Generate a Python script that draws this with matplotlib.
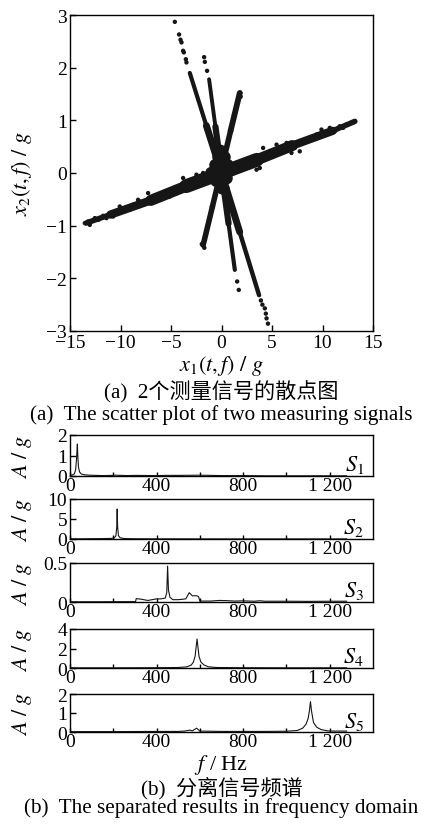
import matplotlib
matplotlib.use('Agg')
import matplotlib.pyplot as plt

plt.rcParams['font.family'] = ['Liberation Serif', 'Noto Sans CJK SC']
plt.rcParams['mathtext.fontset'] = 'stix'

# ---- scatter (a): arm centre lines ----
arm_a_x = [-13.4, -11.0, -7.0, -3.5, 0.0, 3.5, 7.0, 11.0, 13.2]
arm_a_y = [-0.95, -0.79, -0.52, -0.25, 0.0, 0.25, 0.52, 0.80, 0.98]
arm_b_x = [-3.14, -1.5, 0.0, 1.8, 3.72]
arm_b_y = [1.90, 0.90, 0.0, -1.12, -2.32]
arm_c_x = [-1.23, -0.6, 0.0, 0.7, 1.32]
arm_c_y = [1.78, 0.88, 0.03, -0.96, -1.84]
arm_d_x = [-1.82, -0.9, 0.0, 0.9, 1.81]
arm_d_y = [-1.37, -0.64, 0.08, 0.80, 1.52]

# loose dots at the ends and edges of the arms
dots_x = [-4.62, -4.20, -4.06, -3.96, -3.80, -3.73, -3.53, -3.47,
          -1.72, -1.65, -1.43, 1.55, 1.71,
          4.29, 4.39, 4.46, 4.60, 3.90, 4.05,
          -13.53, -13.2, -13.04, -12.54, -12.2, -11.72, -11.39, -10.73, -10.4,
          -10.07, -9.57, -9.08, -8.75, -8.26, -8.09, -7.27, -6.77, -6.28,
          -5.45, -5.12, -4.46, -3.8, -3.63, -2.81, -2.48, -1.82,
          13.2, 12.87, 12.38, 12.04, 11.71, 11.22, 10.72, 10.4, 9.9, 9.41,
          8.74, 7.75, 7.26, 6.93, 6.44, 5.94, 5.45, 4.78, 4.12, 3.79, 3.47,
          3.13, 2.48, 1.98,
          -1.95, -1.70, 1.70, 1.90, 1.85]
dots_y = [2.87, 2.63, 2.53, 2.48, 2.32, 2.29, 2.16, 2.10,
          2.20, 2.11, 1.94, -2.06, -2.22,
          -2.57, -2.67, -2.76, -2.86, -2.42, -2.50,
          -0.952, -0.92, -0.985, -0.857, -0.89, -0.813, -0.857, -0.826, -0.762,
          -0.636, -0.667, -0.699, -0.604, -0.509, -0.541, -0.381, -0.509, -0.476,
          -0.35, -0.446, -0.381, -0.095, -0.255, -0.16, -0.032, 0.0,
          0.983, 0.952, 0.92, 0.857, 0.888, 0.792, 0.857, 0.792, 0.825, 0.73,
          0.667, 0.411, 0.476, 0.381, 0.571, 0.444, 0.539, 0.411, 0.476, 0.095, 0.063,
          0.253, 0.19, 0.126,
          -1.35, -1.42, 1.40, 1.45, 1.52]

# dense blob at the crossing point
blob_x = [-1.0, -0.6, -0.3, 0.0, 0.3, 0.6, 0.9, -0.5, 0.0, 0.5, -0.2, 0.2, 0.0, 0.2, -0.1]
blob_y = [0.0, 0.15, 0.30, 0.38, 0.30, 0.15, 0.05, -0.15, -0.28, -0.10, 0.10, -0.05, 0.05, -0.3, 0.42]

# ---- spectra (b) ----
f1 = [0, 10, 20, 26, 30, 32, 34, 36, 39, 44, 52, 65, 90, 150, 200, 210, 260, 300, 400, 450,
      500, 600, 700, 800, 900, 1000, 1100, 1200, 1278]
a1 = [0.05, 0.05, 0.10, 0.30, 0.80, 1.20, 1.56, 1.00, 0.45, 0.20, 0.10, 0.06, 0.04, 0.02, 0.03,
      0.04, 0.02, 0.03, 0.02, 0.03, 0.03, 0.04, 0.02, 0.02, 0.01, 0.01, 0.01, 0.01, 0.01]
f2 = [0, 50, 100, 150, 190, 205, 212, 216, 218, 220, 224, 232, 250, 300, 400, 600, 800,
      1000, 1200, 1278]
a2 = [0.05, 0.05, 0.08, 0.10, 0.15, 0.30, 0.80, 3.0, 7.5, 3.0, 0.8, 0.3, 0.12, 0.06, 0.04,
      0.03, 0.02, 0.02, 0.02, 0.02]
f3 = [0, 100, 200, 303, 306, 330, 360, 380, 400, 420, 440, 447, 451, 455, 462, 475, 500,
      520, 535, 545, 551, 558, 565, 575, 585, 594, 600, 650, 690, 720, 760, 800, 850, 877,
      900, 1000, 1100, 1200, 1278]
a3 = [0.003, 0.003, 0.004, 0.005, 0.044, 0.035, 0.02, 0.03, 0.04, 0.04, 0.05, 0.12, 0.46,
      0.15, 0.06, 0.03, 0.03, 0.035, 0.04, 0.09, 0.12, 0.10, 0.08, 0.08, 0.08, 0.07, 0.012,
      0.012, 0.02, 0.018, 0.012, 0.015, 0.01, 0.016, 0.01, 0.01, 0.008, 0.01, 0.01]
f4 = [0, 200, 400, 500, 540, 560, 570, 578, 583, 587, 591, 596, 605, 620, 640, 680, 800,
      1000, 1200, 1278]
a4 = [0.02, 0.02, 0.03, 0.05, 0.12, 0.30, 0.60, 1.20, 2.20, 2.97, 2.20, 1.20, 0.60, 0.30,
      0.12, 0.05, 0.03, 0.02, 0.02, 0.02]
f5 = [0, 200, 400, 500, 530, 554, 565, 585, 600, 700, 900, 1000, 1050, 1075, 1090, 1100,
      1106, 1111, 1116, 1125, 1140, 1160, 1190, 1220, 1250, 1278]
a5 = [0.02, 0.02, 0.03, 0.03, 0.05, 0.10, 0.06, 0.20, 0.05, 0.03, 0.03, 0.04, 0.08, 0.20,
      0.40, 0.70, 1.10, 1.60, 1.10, 0.50, 0.25, 0.13, 0.06, 0.05, 0.05, 0.05]

spectra = [(f1, a1), (f2, a2), (f3, a3), (f4, a4), (f5, a5)]
y_limits = [2, 10, 0.5, 4, 2]
y_ticks = [[0, 1, 2], [0, 5, 10], [0, 0.5], [0, 2, 4], [0, 1, 2]]
y_tick_labels = [['0', '1', '2'], ['0', '5', '10'], ['0', '0.5'], ['0', '2', '4'], ['0', '1', '2']]
f_ticks = [0, 400, 800, 1200]
f_tick_labels = ['0', '400', '800', '1 200']
names = ['$S_1$', '$S_2$', '$S_3$', '$S_4$', '$S_5$']

W, H = 426, 828
fig = plt.figure(figsize=(W / 100, H / 100), dpi=100)
ink = '#161616'
fs = 14       # tick labels
fl = 16       # axis labels
fc = 15.2     # captions

# scatter panel
ax = fig.add_axes([70 / W, 1 - 332 / H, 303 / W, 316 / H])
widths_a = [4, 6, 8, 10, 10, 8, 6, 4]
for i in range(len(arm_a_x) - 1):
    ax.plot(arm_a_x[i:i + 2], arm_a_y[i:i + 2], color=ink, lw=widths_a[i], solid_capstyle='round')
for xs, ys, ws in [(arm_b_x, arm_b_y, [3.0, 5.0, 5.0, 3.2]),
                   (arm_c_x, arm_c_y, [2.8, 4.5, 4.5, 3.0]),
                   (arm_d_x, arm_d_y, [4.0, 4.0, 4.0, 4.2])]:
    for i in range(len(xs) - 1):
        ax.plot(xs[i:i + 2], ys[i:i + 2], color=ink, lw=ws[i], solid_capstyle='round')
ax.scatter(blob_x, blob_y, s=80, color=ink, edgecolors='none')
ax.scatter(dots_x, dots_y, s=10, color=ink, edgecolors='none')
ax.set_xlim(-15, 15)
ax.set_ylim(-3, 3)
ax.set_xticks([-15, -10, -5, 0, 5, 10, 15])
ax.set_yticks([-3, -2, -1, 0, 1, 2, 3])
ax.set_xticklabels(['\u221215', '\u221210', '\u22125', '0', '5', '10', '15'])
ax.set_yticklabels(['\u22123', '\u22122', '\u22121', '0', '1', '2', '3'])
ax.tick_params(direction='in', length=4, width=1, labelsize=fs, pad=2)
for s in ax.spines.values():
    s.set_linewidth(1.0)
ax.set_xlabel(r'$x_1(t, f)\ /\ g$', fontsize=fl, labelpad=1.5)
ax.set_ylabel(r'$x_2(t, f)\ /\ g$', fontsize=fl)
ax.yaxis.set_label_coords(-0.118, 0.5)

fig.text(221.5 / W, 1 - 392 / H, '(a)  2个测量信号的散点图', ha='center', va='center', fontsize=fc)
fig.text(221.5 / W, 1 - 415 / H, '(a)  The scatter plot of two measuring signals',
         ha='center', va='center', fontsize=fc)

# spectrum panels
boxes = [(436, 477), (500, 540), (564, 603), (630, 669), (695, 733)]
for k, (top, bot) in enumerate(boxes):
    sx = fig.add_axes([70 / W, 1 - bot / H, 303 / W, (bot - top) / H])
    f, a = spectra[k]
    sx.plot(f, a, color=ink, lw=0.8)
    sx.set_xlim(0, 1400)
    sx.set_ylim(0, y_limits[k])
    sx.set_xticks(f_ticks)
    sx.set_xticklabels(f_tick_labels)
    sx.set_xticks([200, 600, 1000], minor=True)
    sx.set_yticks(y_ticks[k])
    sx.set_yticklabels(y_tick_labels[k])
    sx.tick_params(axis='x', which='both', direction='in', length=3, width=1, labelsize=fs, pad=1)
    sx.tick_params(axis='y', direction='in', length=4.5, width=1, labelsize=fs, pad=2)
    for s in sx.spines.values():
        s.set_linewidth(1.0)
    sx.set_ylabel(r'$A\ /\ g$', fontsize=fl)
    sx.yaxis.set_label_coords(-0.118, 0.5)
    sx.text(0.97, 0.3, names[k], transform=sx.transAxes, ha='right', va='center', fontsize=fl)
    if k == len(boxes) - 1:
        sx.set_xlabel(r'$f$ / Hz', fontsize=fl, labelpad=1.5)

fig.text(221.5 / W, 1 - 788 / H, '(b)  分离信号频谱', ha='center', va='center', fontsize=fc)
fig.text(221.5 / W, 1 - 808 / H, '(b)  The separated results in frequency domain',
         ha='center', va='center', fontsize=fc)

fig.savefig('out.png', dpi=100)
